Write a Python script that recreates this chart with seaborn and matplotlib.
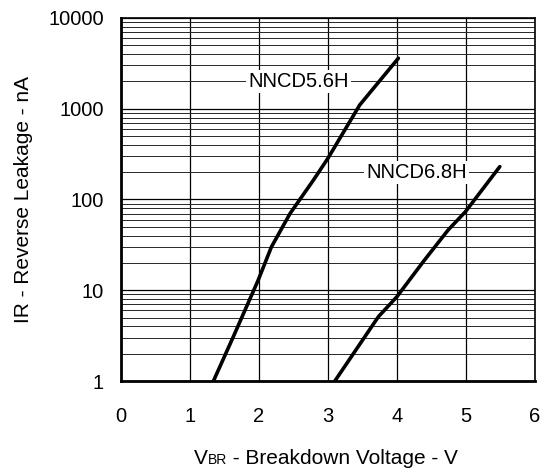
import matplotlib
import matplotlib.pyplot as plt
import numpy as np
import seaborn as sns
from pandas import DataFrame
from matplotlib.ticker import LogLocator, FixedLocator, FixedFormatter, NullFormatter

matplotlib.use("Agg")

# values (voltage in V, leakage in nA)
v_56 = [1.34, 1.63, 1.99, 2.18, 2.45, 2.79, 3.0, 3.46, 4.02]
i_56 = [1, 3.1, 13, 30, 70, 164, 285, 1100, 3600]
v_68 = [3.10, 3.73, 4.0, 4.38, 4.74, 4.99, 5.49]
i_68 = [1, 5.1, 8.5, 20.6, 46, 73, 230]

y_ticks = [1, 10, 100, 1000, 10000]
y_tick_labels = ["1", "10", "100", "1000", "10000"]
x_ticks = [0, 1, 2, 3, 4, 5, 6]

sns.set_style("white")
plt.rcParams["font.family"] = ["Liberation Sans", "DejaVu Sans"]
plt.rcParams["text.color"] = "black"
plt.rcParams["axes.labelcolor"] = "black"
plt.rcParams["xtick.color"] = "black"
plt.rcParams["ytick.color"] = "black"

df = DataFrame(
    {
        "v": v_56 + v_68,
        "i": i_56 + i_68,
        "part": ["NNCD5.6H"] * len(v_56) + ["NNCD6.8H"] * len(v_68),
    }
)

fig = plt.figure(figsize=(5.47, 4.73), dpi=100)
ax = fig.add_axes([0.2212, 0.1945, 0.7568, 0.7675])
ax.set_yscale("log")
ax.set_xlim(0, 6)
ax.set_ylim(1, 10000)

# grid first so the curves sit on top
ax.yaxis.set_major_locator(FixedLocator(y_ticks))
ax.yaxis.set_major_formatter(FixedFormatter(y_tick_labels))
ax.yaxis.set_minor_locator(LogLocator(base=10, subs=np.arange(2, 10)))
ax.yaxis.set_minor_formatter(NullFormatter())
ax.set_xticks(x_ticks)
ax.grid(which="major", axis="both", color="black", linewidth=0.9)
ax.grid(which="minor", axis="y", color="0.15", linewidth=0.7)
ax.set_axisbelow(True)

sns.lineplot(
    data=df,
    x="v",
    y="i",
    units="part",
    estimator=None,
    color="black",
    linewidth=2.6,
    legend=False,
    ax=ax,
    zorder=3,
)

ax.text(2.57, 2000, "NNCD5.6H", fontsize=14.5, ha="center", va="center",
        bbox=dict(facecolor="white", edgecolor="none", pad=1.5), zorder=4)
ax.text(4.28, 200, "NNCD6.8H", fontsize=14.5, ha="center", va="center",
        bbox=dict(facecolor="white", edgecolor="none", pad=1.5), zorder=4)

ax.tick_params(axis="both", which="both", length=0, labelsize=14.5)
ax.tick_params(axis="x", pad=19)
ax.tick_params(axis="y", pad=12.5)
for side in ["top", "right"]:
    ax.spines[side].set_linewidth(1.2)
    ax.spines[side].set_color("black")
for side in ["left", "bottom"]:
    ax.spines[side].set_linewidth(2.0)
    ax.spines[side].set_color("black")

ax.set_xlabel("")
ax.set_ylabel("IR - Reverse Leakage - nA", fontsize=15, labelpad=11)

# x label: small "BR" sitting on the baseline after the V
base_y = 0.019
parts = [
    fig.text(0, base_y, "V", fontsize=15, va="baseline"),
    fig.text(0, base_y, "BR", fontsize=10, va="baseline"),
    fig.text(0, base_y, " - Breakdown Voltage - V", fontsize=15, va="baseline"),
]
renderer = fig.canvas.get_renderer()
widths = [p.get_window_extent(renderer).width for p in parts]
x_px = 326 - sum(widths) / 2
for p, w in zip(parts, widths):
    p.set_x(x_px / fig.bbox.width)
    x_px += w

fig.savefig("out.png", dpi=100)
